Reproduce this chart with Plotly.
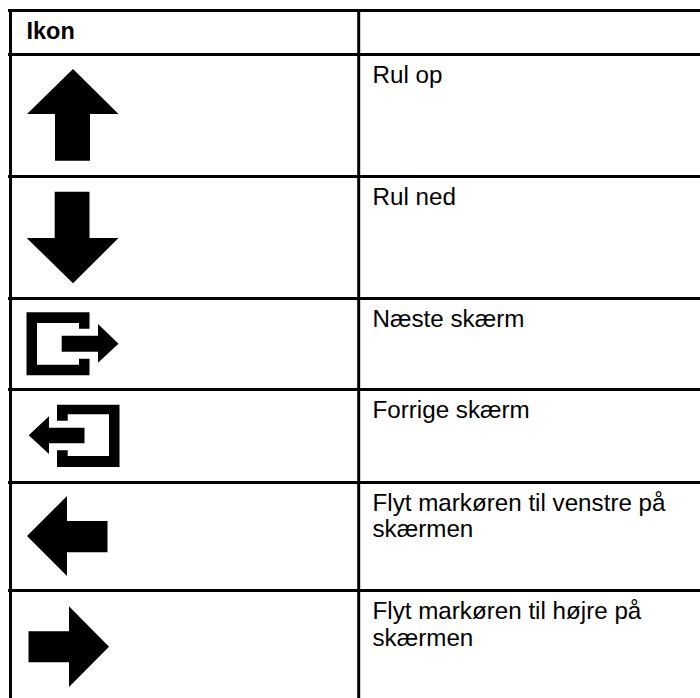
import plotly.graph_objects as go

# Table structure
grid_rows = [10.5, 54.5, 176.5, 298.5, 389.5, 482.5, 590.5]
grid_cols = [10.5, 358.7]
table_left = 8
table_right = 700
table_top = 9
table_bottom = 698

# Text
header_label = "Ikon"
row_labels = [
    ["Rul op"],
    ["Rul ned"],
    ["Næste skærm"],
    ["Forrige skærm"],
    ["Flyt markøren til venstre på", "skærmen"],
    ["Flyt markøren til højre på", "skærmen"],
]
label_x = 372.5
first_line_y = [77, 199, 321, 412, 504.7, 613]
line_gap = 26.6

# Icon outlines
icon_up = [(73, 69), (118.5, 114), (90, 114), (90, 160.7), (55, 160.7), (55, 114), (27, 114)]
icon_down = [(54.7, 191.7), (89.5, 191.7), (89.5, 238), (118.5, 238), (73, 283.3), (26.7, 238), (54.7, 238)]
icon_next_box = [(26.5, 312.3), (89.5, 312.3), (89.5, 328.7), (79, 328.7), (79, 323), (37, 323),
                 (37, 364.7), (79, 364.7), (79, 358.7), (89.5, 358.7), (89.5, 375.3), (26.5, 375.3)]
icon_next_arrow = [(61.7, 335.7), (98, 335.7), (98, 324), (118.5, 343.7), (98, 362.7), (98, 351.7), (61.7, 351.7)]
icon_prev_box = [(57, 404.7), (119.5, 404.7), (119.5, 467), (57, 467), (57, 450.3), (67.7, 450.3), (67.7, 456),
                 (109, 456), (109, 414.3), (67.7, 414.3), (67.7, 420.7), (57, 420.7)]
icon_prev_arrow = [(28.7, 435.3), (49, 416.3), (49, 427.7), (84.5, 427.7), (84.5, 443.3), (49, 443.3), (49, 454)]
icon_left = [(27, 536), (67, 496), (67, 521), (107.5, 521), (107.5, 552.3), (67, 552.3), (67, 576)]
icon_right = [(28.5, 631.3), (69, 631.3), (69, 606.3), (109, 646.7), (69, 687), (69, 662.3), (28.5, 662.3)]
icons = [icon_up, icon_down, icon_next_box, icon_next_arrow, icon_prev_box, icon_prev_arrow, icon_left, icon_right]

FONT = "Liberation Sans, Arial, sans-serif"
TEXT_SIZE = 24.2
HEADER_SIZE = 23.5

fig = go.Figure()

for pts in icons:
    xs = [p[0] for p in pts] + [pts[0][0]]
    ys = [p[1] for p in pts] + [pts[0][1]]
    fig.add_trace(go.Scatter(x=xs, y=ys, mode="lines", fill="toself", fillcolor="#000000",
                             line=dict(width=0, color="#000000"), hoverinfo="skip", showlegend=False))

for y in grid_rows:
    fig.add_trace(go.Scatter(x=[table_left, table_right], y=[y, y], mode="lines",
                             line=dict(color="#000000", width=3), hoverinfo="skip", showlegend=False))
for x in grid_cols:
    fig.add_trace(go.Scatter(x=[x, x], y=[table_top, table_bottom], mode="lines",
                             line=dict(color="#000000", width=3), hoverinfo="skip", showlegend=False))

fig.add_trace(go.Scatter(x=[26.5], y=[32.7], mode="text", text=["<b>" + header_label + "</b>"],
                         textposition="middle right",
                         textfont=dict(family=FONT, size=HEADER_SIZE, color="#000000"),
                         hoverinfo="skip", showlegend=False))

xs, ys, texts = [], [], []
for lines, y0 in zip(row_labels, first_line_y):
    for i, line in enumerate(lines):
        xs.append(label_x)
        ys.append(y0 + i * line_gap)
        texts.append(line)
fig.add_trace(go.Scatter(x=xs, y=ys, mode="text", text=texts, textposition="middle right",
                         textfont=dict(family=FONT, size=TEXT_SIZE, color="#000000"),
                         hoverinfo="skip", showlegend=False))

fig.update_layout(
    width=700, height=698,
    margin=dict(l=0, r=0, t=0, b=0),
    paper_bgcolor="#ffffff", plot_bgcolor="#ffffff",
    xaxis=dict(range=[0, 700], visible=False, fixedrange=True),
    yaxis=dict(range=[698, 0], visible=False, fixedrange=True),
    showlegend=False,
)
fig.write_html("out.html", config={"displayModeBar": False},
               post_script="document.body.style.margin='0';document.body.style.overflow='hidden';")
